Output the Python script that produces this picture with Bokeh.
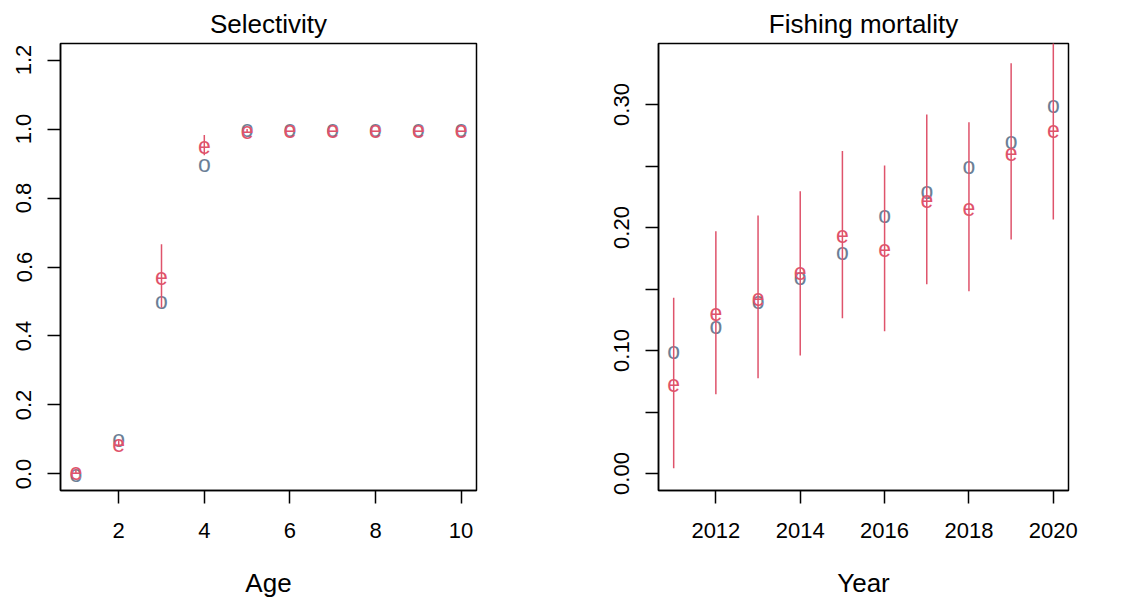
from bokeh.plotting import figure
from bokeh.layouts import row
from bokeh.models import FixedTicker, Range1d, ColumnDataSource
from bokeh.core.properties import value
from bokeh.embed import file_html
from bokeh.resources import INLINE

# ---- data ----
ages = [1, 2, 3, 4, 5, 6, 7, 8, 9, 10]
sel_obs = [0.0, 0.10, 0.50, 0.90, 1.0, 1.0, 1.0, 1.0, 1.0, 1.0]
sel_est = [0.008, 0.088, 0.573, 0.951, 0.995, 1.0, 1.0, 1.0, 1.0, 1.0]
sel_lo = [0.0, 0.078, 0.482, 0.924, 0.99, 1.0, 1.0, 1.0, 1.0, 1.0]
sel_hi = [0.015, 0.098, 0.666, 0.983, 1.0, 1.0, 1.0, 1.0, 1.0, 1.0]

years = [2011, 2012, 2013, 2014, 2015, 2016, 2017, 2018, 2019, 2020]
f_obs = [0.10, 0.12, 0.14, 0.16, 0.18, 0.21, 0.23, 0.25, 0.27, 0.30]
f_est = [0.0734, 0.1306, 0.143, 0.164, 0.194, 0.183, 0.2228, 0.2165, 0.261, 0.2794]
f_lo = [0.0043, 0.0645, 0.0775, 0.0959, 0.1263, 0.1157, 0.1539, 0.1482, 0.1902, 0.2065]
f_hi = [0.143, 0.197, 0.2098, 0.2295, 0.2623, 0.2504, 0.2919, 0.2856, 0.3336, 0.352]

sel_yticks = [0.0, 0.2, 0.4, 0.6, 0.8, 1.0, 1.2]
sel_xticks = [2, 4, 6, 8, 10]
f_yticks = [0.0, 0.05, 0.10, 0.15, 0.20, 0.25, 0.30]
f_ylabels = ["0.00", "", "0.10", "", "0.20", "", "0.30"]
f_xticks = [2012, 2014, 2016, 2018, 2020]

GRAY = "#6c7f96"
RED = "#DF536B"
FONT = "Liberation Sans"


def style(p, title):
    p.title.text = title
    p.title.align = "center"
    p.title.text_font = FONT
    p.title.text_font_size = "26px"
    p.title.text_font_style = "normal"
    p.title.text_color = "black"
    p.xgrid.visible = False
    p.ygrid.visible = False
    p.outline_line_color = "black"
    p.outline_line_width = 1.5
    for ax in (p.xaxis[0], p.yaxis[0]):
        ax.axis_line_color = "black"
        ax.axis_line_width = 1.5
        ax.major_tick_line_color = "black"
        ax.major_tick_line_width = 1.5
        ax.major_tick_out = 13
        ax.major_tick_in = 0
        ax.minor_tick_line_color = None
        ax.major_label_text_font = FONT
        ax.major_label_text_font_size = "22px"
        ax.major_label_text_color = "black"
        ax.axis_label_text_font = FONT
        ax.axis_label_text_font_size = "26px"
        ax.axis_label_text_font_style = "normal"
        ax.axis_label_text_color = "black"
    p.yaxis[0].major_label_orientation = "vertical"
    p.xaxis[0].major_label_standoff = 19
    p.yaxis[0].major_label_standoff = 16
    p.xaxis[0].axis_label_standoff = 27
    p.background_fill_color = "white"
    p.border_fill_color = "white"


def points(p, x, obs, est, lo, hi):
    src = ColumnDataSource(dict(x=x, obs=obs, est=est, lo=lo, hi=hi,
                                o=["o"] * len(x), e=["e"] * len(x)))
    p.text(x="x", y="obs", text="o", source=src, text_color=GRAY,
           text_font=value(FONT), text_font_size="23px",
           text_align="center", text_baseline="middle")
    p.segment(x0="x", y0="lo", x1="x", y1="hi", source=src,
              line_color=RED, line_width=1.5)
    p.text(x="x", y="est", text="e", source=src, text_color=RED,
           text_font=value(FONT), text_font_size="23px",
           text_align="center", text_baseline="middle")


# ---- left: selectivity ----
p1 = figure(width=560, height=604, output_backend="svg", toolbar_location=None,
            x_range=Range1d(0.64, 10.36), y_range=Range1d(-0.048, 1.248),
            min_border_left=60, min_border_right=84, min_border_top=43,
            min_border_bottom=114)
style(p1, "Selectivity")
p1.xaxis[0].axis_label = "Age"
p1.xaxis[0].ticker = FixedTicker(ticks=sel_xticks)
p1.yaxis[0].ticker = FixedTicker(ticks=sel_yticks)
p1.yaxis[0].major_label_overrides = {t: f"{t:.1f}" for t in sel_yticks}
points(p1, ages, sel_obs, sel_est, sel_lo, sel_hi)

# ---- right: fishing mortality ----
p2 = figure(width=568, height=604, output_backend="svg", toolbar_location=None,
            x_range=Range1d(2010.64, 2020.36), y_range=Range1d(-0.0138, 0.3496),
            min_border_left=98, min_border_right=60, min_border_top=43,
            min_border_bottom=114)
style(p2, "Fishing mortality")
p2.xaxis[0].axis_label = "Year"
p2.xaxis[0].ticker = FixedTicker(ticks=f_xticks)
p2.yaxis[0].ticker = FixedTicker(ticks=f_yticks)
p2.yaxis[0].major_label_overrides = {t: l for t, l in zip(f_yticks, f_ylabels)}
points(p2, years, f_obs, f_est, f_lo, f_hi)

layout = row(p1, p2)
open("out.html", "w").write(file_html(layout, INLINE))
